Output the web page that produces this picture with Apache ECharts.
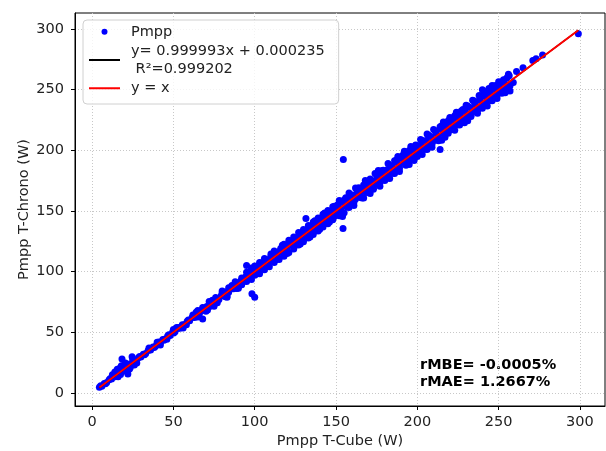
<!DOCTYPE html>
<html>
<head>
<meta charset="utf-8">
<script src="https://cdn.jsdelivr.net/npm/echarts@6/dist/echarts.min.js"></script>
<style>html,body{margin:0;padding:0;background:#fff}#c{width:606px;height:451px}</style>
</head>
<body>
<div id="c"></div>
<script>
// Pmpp T-Cube (x) vs Pmpp T-Chrono (y)
const pmppLow = [[4.5,4.8],[6,5.6],[7.5,7.9],[9,8.6],[10.5,10.9],[12,11.5],[13.5,14.1],[15,14.6],[16.5,17.2],[18,17.4],[19.5,20.3],[21,20.4],[22.5,23.1],[24,23.6],[25.5,26.0],[27,26.5],[28.5,29.1],[30,29.6],[31.5,32.0],[33,32.5],[34.5,35.1],[36,35.5],[37.5,38.0],[39,38.6],[40.5,41.1],[42,41.4],[43.5,44.1],[45,44.6],[46.5,47.0],[48,47.4],[49.5,50.1],[51,50.5],[52.5,53.1],[54,53.4],[55.5,56.2],[57,56.4],[58.5,59.1],[60,59.5],
  [5.3,5.9],[8.2,7.6],[11.2,11.9],[14.2,13.5],[17.2,18.0],[20.2,19.5],[23.2,24.0],[26.2,25.5],[29.2,30.0],[32.2,31.5],[35.2,36.0],[38.2,37.5],[41.2,42.0],[44.2,43.5],[47.2,48.0],[50.2,49.5],[53.2,54.1],[56.2,55.4],[59.2,60.2],
  [15.5,19.5],[17,20.5],[18.4,28],[20,23.5],[21.5,17.5],[22,15.7],[24.6,29.8],[23,19.8],[26,23],[19,21.8],[14,17.3],[12.5,15],[16,13.5],[18,22.5],[20.5,24.8],[23.5,21],[25,27.5],[27.5,24.8],[17.5,15.2],
  [35,37],[42,39.6],[50,52.3],[56,53.5],[40,41.8],[46,44.3],[52,54],[58,56.2]];
const pmppMid = [[61.5,62.3],[63,62.2],[64.5,65.1],[66,65.3],[67.5,68.2],[69,68.3],[70.5,71.4],[72,71.2],[73.5,74.3],[75,74.1],[76.5,77.6],[78,77.1],[79.5,80.4],[81,80.2],[82.5,83.5],[84,83.0],[85.5,86.6],[87,86.0],[88.5,89.7],[90,89.1],[91.5,92.6],[93,92.0],[94.5,95.8],[96,95.0],[97.5,98.7],[99,97.8],[100.5,101.8],[102,101.0],[103.5,104.9],[105,103.8],[106.5,107.8],[108,106.9],[109.5,110.9],[111,109.8],[112.5,113.8],[114,112.7],[115.5,117.0],[117,115.8],[118.5,119.9],[120,118.7],[121.5,123.1],[123,121.7],[124.5,126.0],[126,124.6],[127.5,129.1],[129,127.5],[130.5,132.2],[132,130.6],[133.5,135.2],[135,133.5],[136.5,138.3],[138,136.4],[139.5,141.4],[141,139.4],[142.5,144.4],[144,142.3],[145.5,147.5],[147,145.3],[148.5,150.5],[150,148.2],
  [62,64.3],[65,62.6],[68,70.4],[71,68.5],[74,76.5],[77,74.3],[80,82.6],[83,80.2],[86,88.7],[89,86.1],[92,94.8],[95,92.0],[98,100.9],[101,98.0],[104,107.0],[107,103.9],[110,113.0],[113,109.8],[116,119.1],[119,115.8],[122,125.2],[125,121.7],[128,131.3],[131,127.7],[134,137.4],[137,133.6],[140,143.5],[143,139.5],[146,149.6],[149,145.4],
  [64,66.6],[70,67.4],[76,78.7],[82,79.3],[84,86.8],[92,89.2],[96,98.9],[100,97.1],
  [65,68],[72,75.5],[80,84],[88,91.8],[95,99.5],[98,103],[103,107.5],[110,114.5],[117,121.8],[124,128.5],[130,134.8],[137,142],[143,148.3],[149,154],
  [75,71.5],[83,79],[90,86.3],[98,93.5],[106,101.5],[112,107.6],[120,115],[128,122.8],[134,128.5],[140,135],[146,141],[152,146]];
const pmppMidEdges = [[100,104.6],[106,110.8],[112,117.1],[118,122.6],[121,126.0],[127,132.2],[133,138.1],[136,141.0],[139,144.3],[142,147.4],[145,150.5],[148,153.6],
  [103,98.2],[109,104.0],[115,110.1],[118,112.8],[121,115.9],[124,118.7],[127,121.9],[130,124.6],[133,127.8],[136,130.7],[139,133.6],[142,136.8],[145,139.5],[148,142.7]];
const pmppHigh = [[151.5,153.6],[153,151.1],[154.5,157.0],[156,154.1],[157.5,160.0],[159,157.1],[160.5,163.1],[162,160.0],[163.5,166.0],[165,163.1],[166.5,169.2],[168,166.0],[169.5,172.1],[171,169.1],[172.5,175.0],[174,172.0],[175.5,178.1],[177,175.0],[178.5,181.2],[180,178.1],[181.5,184.0],[183,181.0],[184.5,187.2],[186,184.1],[187.5,190.1],[189,187.0],[190.5,193.2],[192,190.0],[193.5,196.1],[195,193.1],[196.5,199.3],[198,196.0],[199.5,202.2],[201,199.0],[202.5,205.3],[204,202.0],[205.5,208.1],[207,205.0],[208.5,211.3],[210,207.9],[211.5,214.2],[213,211.0],[214.5,217.3],[216,213.9],[217.5,220.2],[219,217.0],[220.5,223.3],[222,219.9],[223.5,226.3],[225,223.0],[226.5,229.4],[228,226.0],[229.5,232.2],[231,229.0],[232.5,235.4],[234,231.9],[235.5,238.3],[237,235.0],[238.5,241.3],[240,237.9],[241.5,244.4],[243,240.9],[244.5,247.2],[246,243.9],[247.5,250.3],[249,246.8],[250.5,253.1],[252,249.8],[253.5,255.9],[255,252.6],
  [151,155.2],[153,149.4],[155,159.1],[157,153.3],[159,163.2],[161,157.2],[163,167.3],[165,161.1],[167,171.4],[169,165.2],[171,175.5],[173,169.0],[175,179.6],[177,173.1],[179,183.6],[181,177.0],[183,187.7],[185,181.1],[187,191.8],[189,185.0],[191,195.9],[193,189.1],[195,199.9],[197,193.0],[199,204.0],[201,197.2],[203,208.1],[205,201.0],[207,212.2],[209,205.1],[211,216.2],[213,209.0],[215,220.3],[217,213.2],[219,224.4],[221,217.1],[223,228.5],[225,221.2],[227,232.5],[229,225.1],[231,236.6],[233,229.2],[235,240.7],[237,233.1],[239,244.7],[241,237.2],[243,248.8],[245,241.1],[247,252.6],[249,245.3],[251,256.2],[253,249.0],[255,259.6],[257,253.2],
  [156,161],[164,169.2],[171,176.3],[178,183.1],[186,191.4],[193,198.2],[199,204.5],[207,212.3],[214,219.4],[221,226.5],[228,233.6],[235,240.5],[242,247.6],[248,253.5],[253,258.2],[256.5,261.5],
  [158,153],[166,160.8],[173,168],[180,175.2],[186,180.9],[193,187.8],[200,195],[206,200.8],[213,207.9],[219,214],[226,220.9],[233,227.8],[240,234.8],[246,240.9],[252,247]];
const pmppHighEdges = [[152,158.6],[158,164.8],[162,168.9],[168,175.1],[174,181.0],[176,183.4],[182,189.2],[188,195.0],[192,199.3],[196,203.2],[202,209.0],[206,213.4],[210,217.1],[216,223.3],[220,227.0],[224,231.4],[230,237.1],[234,241.2],[238,245.3],[244,251.0],[246,253.4],[250,256.6],
  [155,148.6],[161,154.5],[167,160.7],[171,164.5],[177,170.4],[183,176.7],[189,182.5],[195,188.4],[198,191.7],[203,196.5],[209,202.6],[215,208.4],[217,210.7],[223,216.5],[229,222.7],[231,224.4],[237,230.5],[243,236.6],[249,242.7],[254,247.5]];
const pmppOutliers = [[154.5,192.5],[98.3,81.8],[100,79],[95,105],[68,61],[131.5,143.8],[154.3,135.5],[154,145.5],[214,200.8],[257,249],[259,256],[240,250],[256,262.8],[261,265],[265,268],[271,274],[273,275.5],[277,278.5],[299,296]];
const fitLine = [[4.5,4.5002],[299,298.998]];
const identityLine = [[4.5,4.5],[299,299]];
const tickValues = [0,50,100,150,200,250,300];
const legendLabels = {
  'Pmpp': 'Pmpp',
  'fit': 'y= 0.999993x + 0.000235\n R\u00b2=0.999202',
  'y = x': 'y = x'
};
const statsText = 'rMBE= -0.0005%\nrMAE= 1.2667%';

const font = 'DejaVu Sans';
const fs = 14.5;
const txt = '#222';
const chart = echarts.init(document.getElementById('c'), null, {renderer: 'canvas'});
function axis(name, min, max, nameGap, labelMargin) {
  return {
    type: 'value', min: min, max: max,
    name: name, nameLocation: 'middle', nameGap: nameGap, nameMoveOverlap: false,
    nameTextStyle: {fontFamily: font, fontSize: fs, color: txt},
    axisLine: {show: true, onZero: false, lineStyle: {color: '#000', width: 1}},
    axisTick: {show: true, inside: false, length: 4, customValues: tickValues, lineStyle: {color: '#000', width: 1}},
    axisLabel: {customValues: tickValues, margin: labelMargin, fontFamily: font, fontSize: fs, color: txt},
    splitLine: {show: true, lineStyle: {color: '#c8c8c8', type: [1, 2], width: 1}}
  };
}
chart.setOption({
  animation: false,
  backgroundColor: '#fff',
  grid: {left: 75, right: 1, top: 13, bottom: 45, show: true, borderColor: '#000', borderWidth: 1, backgroundColor: 'transparent', outerBoundsMode: 'none', containLabel: false},
  xAxis: axis('Pmpp T-Cube (W)', -10.5, 315.4, 28, 9),
  yAxis: axis('Pmpp T-Chrono (W)', -10.7, 313.2, 43, 11),
  legend: {
    orient: 'vertical', left: 83, top: 20,
    padding: [3, 14, 7, 5],
    itemWidth: 31, itemHeight: 6, itemGap: 2,
    borderColor: '#d0d0d0', borderWidth: 1, borderRadius: 4,
    backgroundColor: 'rgba(255,255,255,0.8)',
    textStyle: {fontFamily: font, fontSize: fs, color: txt, lineHeight: 17.5, padding: [0, 0, 0, 6]},
    formatter: function (n) { return legendLabels[n]; },
    data: [
      {name: 'Pmpp', icon: 'circle'},
      {name: 'fit', itemStyle: {opacity: 0}},
      {name: 'y = x', itemStyle: {opacity: 0}}
    ]
  },
  graphic: [{
    type: 'text', left: 420, top: 356,
    style: {text: statsText, fontFamily: font, fontSize: fs, fontWeight: 'bold', fill: '#000', lineHeight: 17.5}
  }],
  series: [
    {name: 'Pmpp', type: 'scatter', symbol: 'circle', symbolSize: 7, itemStyle: {color: '#0000ff', opacity: 1},
     data: pmppLow.concat(pmppMid, pmppMidEdges, pmppHigh, pmppHighEdges, pmppOutliers), z: 2},
    {name: 'fit', type: 'line', symbol: 'none', lineStyle: {color: '#000', width: 1.5}, itemStyle: {color: '#000'}, data: fitLine, z: 3},
    {name: 'y = x', type: 'line', symbol: 'none', lineStyle: {color: '#ff0000', width: 2}, itemStyle: {color: '#ff0000'}, data: identityLine, z: 4}
  ]
});
</script>
</body>
</html>
